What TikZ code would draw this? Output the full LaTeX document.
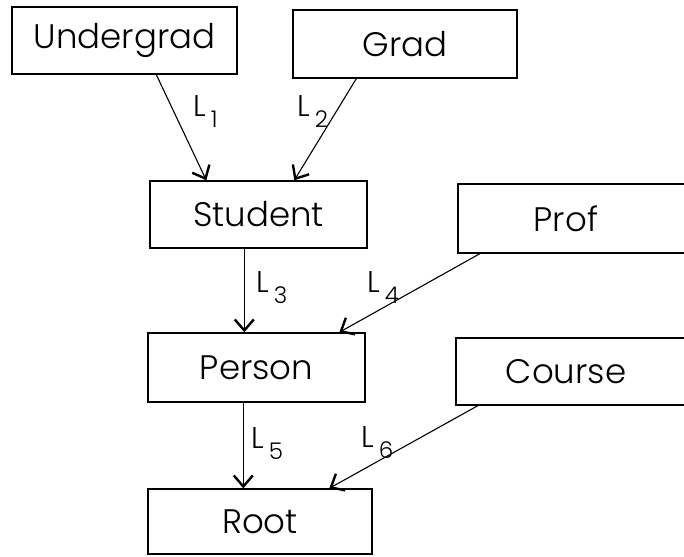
\documentclass[tikz,border=0pt]{standalone}
\usepackage{fontspec}
\setmainfont{Poppins Light}
\usetikzlibrary{arrows.meta}
\tikzset{
  box/.style={draw, line width=1.4pt, rectangle, inner sep=0pt,
    font=\fontsize{34}{40}\selectfont},
  wide/.style={box, line width=1.6pt, anchor=north west, align=left, inner ysep=0pt},
  link/.style={line width=1.1pt, -{Straight Barb[length=11pt,width=19pt,line width=2.4pt]}},
  lbl/.style={anchor=base west, inner sep=0pt, font=\fontsize{30}{32}\selectfont},
}
\newcommand{\ltag}[1]{L\hspace{5pt}\raisebox{-11pt}{\fontsize{23}{26}\selectfont #1}}
\begin{document}
\begin{tikzpicture}[x=1pt, y=-1pt]
  \useasboundingbox (0,0) rectangle (684,556);
  \clip (0,0) rectangle (684,556);

  % class boxes
  \node[box, minimum width=225pt, minimum height=67pt] (ug) at (124.5,40.5) {Undergrad};
  \node[box, minimum width=224pt, minimum height=68pt] (gr) at (405,44) {Grad};
  \node[box, minimum width=217pt, minimum height=67pt] (st) at (258.5,214.5) {Student};
  \node[box, minimum width=217pt, minimum height=69pt] (pe) at (256.5,367.5) {Person};
  \node[box, minimum width=224pt, minimum height=65pt] (ro) at (260,521.5) {Root};
  % these two run off the right edge
  \node[wide, text width=82pt, inner xsep=76pt, minimum height=69pt] (pr) at (457,183) {Prof};
  \node[wide, text width=136pt, inner xsep=50pt, minimum height=67pt] (co) at (455,337) {Course};

  % inheritance links
  \draw[link] ([xshift=145pt]ug.south west) -- ([xshift=57pt]st.north west);
  \draw[link] ([xshift=64pt]gr.south west) -- ([xshift=145pt]st.north west);
  \draw[link] ([xshift=95pt]st.south west) -- ([xshift=97pt]pe.north west);
  \draw[link] ([xshift=23pt]pr.south west) -- ([xshift=192pt]pe.north west);
  \draw[link] ([xshift=96pt]pe.south west) -- ([xshift=96pt]ro.north west);
  \draw[link] ([xshift=23pt]co.south west) -- ([xshift=182pt]ro.north west);

  % link labels
  \node[lbl] (l1) at (193,117) {\ltag{1}};
  \node[lbl] (l2) at (297,117) {\ltag{2}};
  \node[lbl] (l3) at (256,292) {\ltag{3}};
  \node[lbl] (l4) at (367,292) {\ltag{4}};
  \node[lbl] (l5) at (251,448) {\ltag{5}};
  \node[lbl] (l6) at (361,447) {\ltag{6}};
\end{tikzpicture}
\end{document}
